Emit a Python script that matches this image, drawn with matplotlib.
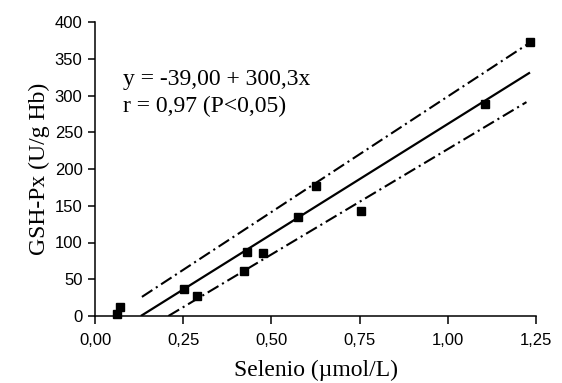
import matplotlib
matplotlib.use("Agg")
import numpy as np
import matplotlib.pyplot as plt

# measured points (selenio umol/L, GSH-Px U/g Hb)
selenio = [0.063, 0.070, 0.251, 0.289, 0.421, 0.430, 0.475, 0.575, 0.627, 0.755, 1.105, 1.233]
gshpx = [2.3, 12.7, 36.3, 27.2, 61.6, 87.5, 85.3, 134.3, 177.3, 142.9, 288.0, 372.4]

# regression y = a + b x
intercept = -39.00
slope = 300.3
reg_x = [0.13, 1.233]

# band lines
upper_x = [0.133, 1.233]
upper_y = [26.0, 372.0]
lower_x = [0.208, 1.223]
lower_y = [0.0, 291.0]

xticks = [0.0, 0.25, 0.5, 0.75, 1.0, 1.25]
xtick_labels = ["0,00", "0,25", "0,50", "0,75", "1,00", "1,25"]
yticks = [0, 50, 100, 150, 200, 250, 300, 350, 400]

serif = ["Liberation Serif", "DejaVu Serif"]
sans = ["Liberation Sans", "DejaVu Sans"]

fig = plt.figure(figsize=(5.62, 3.83), dpi=100)
ax = fig.add_axes([95 / 562, 67 / 383, 441 / 562, 294 / 383])

rx = np.array(reg_x)
ax.plot(rx, intercept + slope * rx, color="black", lw=1.6, solid_capstyle="butt")
band_style = (0, (6, 2, 1, 2))
ax.plot(upper_x, upper_y, color="black", lw=1.5, linestyle=band_style)
ax.plot(lower_x, lower_y, color="black", lw=1.5, linestyle=band_style)
ax.plot(selenio, gshpx, linestyle="none", marker="s", ms=6, color="black",
        clip_on=False, zorder=5)

ax.set_xlim(0, 1.25)
ax.set_ylim(0, 400)
ax.set_xticks(xticks)
ax.set_xticklabels(xtick_labels)
ax.set_yticks(yticks)
for lab in ax.get_xticklabels() + ax.get_yticklabels():
    lab.set_family(sans)
    lab.set_fontsize(12)
ax.tick_params(axis="x", direction="out", length=6, width=1.1, color="black", pad=6)
ax.tick_params(axis="y", direction="out", length=5, width=1.1, color="black", pad=4)

for side in ("top", "right"):
    ax.spines[side].set_visible(False)
for side in ("left", "bottom"):
    ax.spines[side].set_linewidth(1.1)
    ax.spines[side].set_color("black")

ax.set_xlabel("Selenio (\u00b5mol/L)", family=serif, fontsize=17, labelpad=9)
ax.set_ylabel("GSH-Px (U/g Hb)", family=serif, fontsize=17, labelpad=3)

ax.text(0.063, 0.786, "y = -39,00 + 300,3x", transform=ax.transAxes,
        family=serif, fontsize=17, va="baseline", ha="left")
ax.text(0.063, 0.694, "r = 0,97 (P<0,05)", transform=ax.transAxes,
        family=serif, fontsize=17, va="baseline", ha="left")

fig.savefig("out.png", dpi=100)
